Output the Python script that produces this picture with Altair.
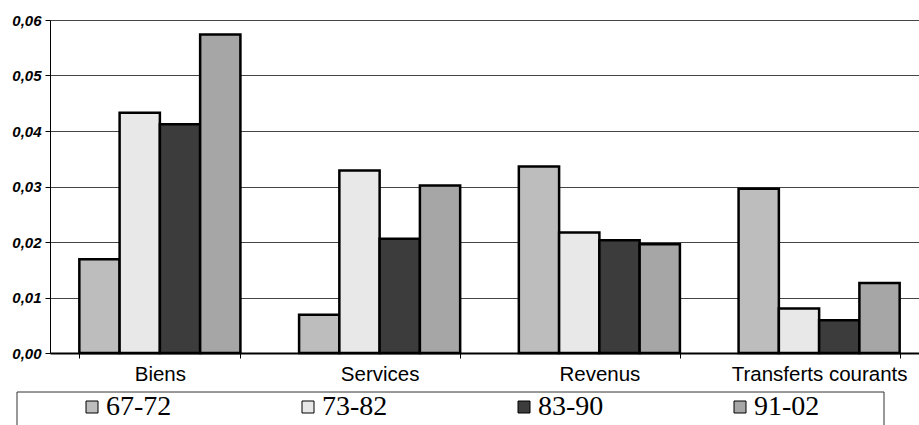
import altair as alt
import pandas as pd

# Balance-of-payments components and the four periods compared
categories = ["Biens", "Services", "Revenus", "Transferts courants"]
periods = ["67-72", "73-82", "83-90", "91-02"]

v_67_72 = [0.0169, 0.0069, 0.0336, 0.0296]
v_73_82 = [0.0433, 0.0329, 0.0217, 0.0080]
v_83_90 = [0.0412, 0.0206, 0.0203, 0.0059]
v_91_02 = [0.0574, 0.0302, 0.0196, 0.0126]

y_ticks = [0.0, 0.01, 0.02, 0.03, 0.04, 0.05, 0.06]

# grey tones standing in for the hatch fills of each period
fills = ["#bdbdbd", "#e8e8e8", "#3c3c3c", "#a6a6a6"]

series = [v_67_72, v_73_82, v_83_90, v_91_02]
rows = []
for p, vals in zip(periods, series):
    for c, v in zip(categories, vals):
        rows.append({"categorie": c, "periode": p, "valeur": v})
df = pd.DataFrame(rows)

W, H = 869, 333

bars = alt.Chart(df).mark_bar(stroke="black", strokeWidth=2.5, strokeJoin="miter").encode(
    x=alt.X(
        "categorie:N",
        sort=categories,
        scale=alt.Scale(range=[0, 879], paddingInner=0.267, paddingOuter=0.1335),
        axis=alt.Axis(
            title=None,
            labelAngle=0,
            tickBand="extent",
            grid=False,
            domainColor="black",
            domainWidth=2,
            tickColor="black",
            tickWidth=1,
            tickSize=5,
            labelFont="Liberation Sans",
            labelFontSize=20.5,
            labelLimit=400,
            labelColor="black",
            labelPadding=6,
        ),
    ),
    xOffset=alt.XOffset("periode:N", sort=periods, scale=alt.Scale(paddingInner=0, paddingOuter=0)),
    y=alt.Y(
        "valeur:Q",
        scale=alt.Scale(domain=[0, 0.06], nice=False, zero=True),
        axis=alt.Axis(
            title=None,
            values=y_ticks,
            labelExpr="replace(format(datum.value, '.2f'), '.', ',')",
            domainColor="black",
            domainWidth=1,
            tickColor="black",
            tickWidth=1,
            tickSize=5,
            labelFont="Liberation Sans",
            labelFontSize=15,
            labelFontWeight="bold",
            labelFontStyle="italic",
            labelColor="black",
            labelPadding=4,
            grid=True,
            gridColor="#444444",
            gridWidth=1,
        ),
    ),
    fill=alt.Fill(
        "periode:N",
        sort=periods,
        scale=alt.Scale(domain=periods, range=fills),
        legend=alt.Legend(
            title=None,
            orient="none",
            legendX=28,
            legendY=373,
            direction="horizontal",
            columns=4,
            columnPadding=122,
            symbolType="square",
            symbolSize=144,
            symbolStrokeColor="black",
            symbolStrokeWidth=1,
            symbolOpacity=1,
            labelFont="Liberation Serif",
            labelFontSize=28,
            labelColor="black",
            labelOffset=0,
        ),
    ),
)

# frame around the legend row
legend_box = alt.Chart(pd.DataFrame({"k": [0]})).mark_rect(
    filled=False, stroke="#333333", strokeWidth=1
).encode(
    x=alt.value(-33),
    x2=alt.value(834),
    y=alt.value(372),
    y2=alt.value(440),
)

chart = (
    alt.layer(bars, legend_box)
    .properties(
        width=W,
        height=H,
        autosize=alt.AutoSizeParams(type="none"),
        padding={"left": 50, "top": 20, "right": 0, "bottom": 72},
        background="white",
    )
    .configure_view(stroke=None)
)

chart.save("out.html", embed_options={"renderer": "svg", "actions": False})
